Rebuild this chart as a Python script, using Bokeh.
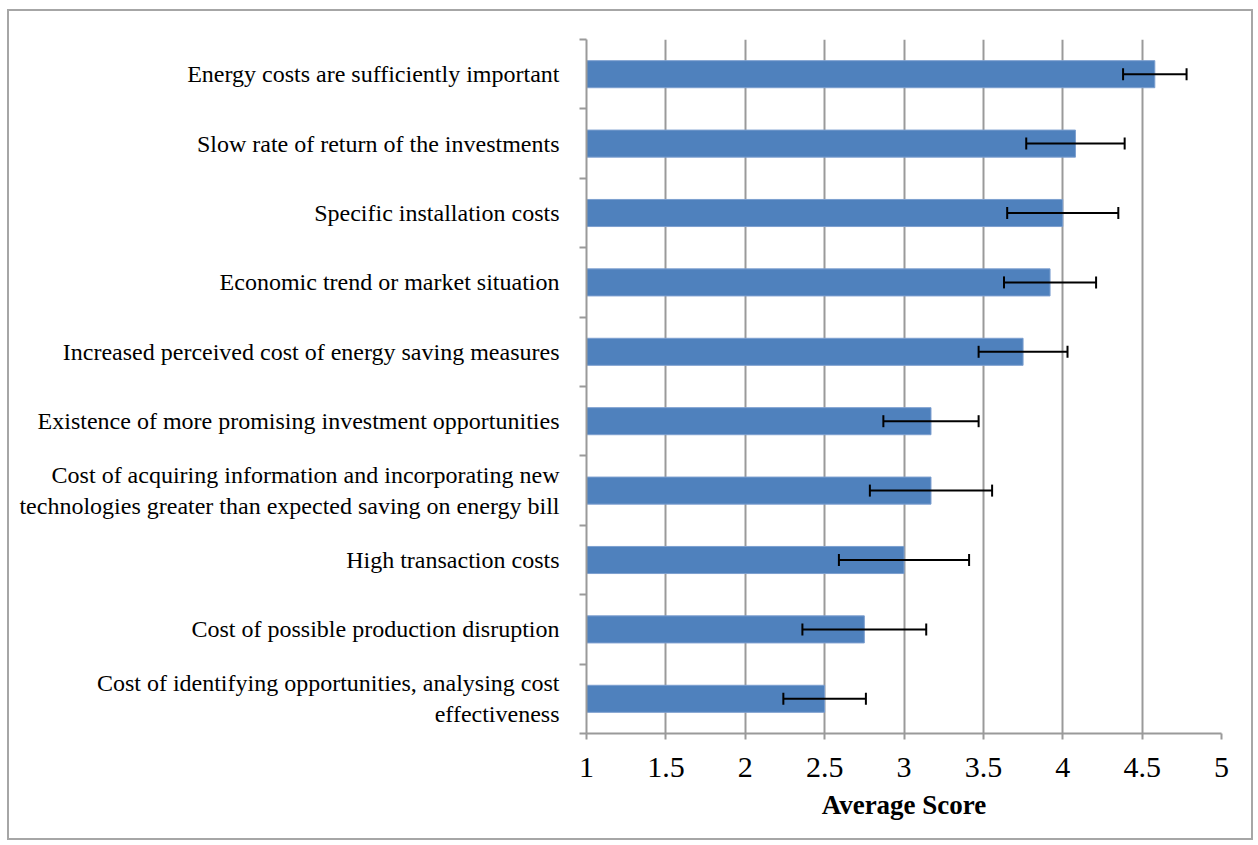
from bokeh.plotting import figure
from bokeh.models import (Range1d, FixedTicker, NumeralTickFormatter, Whisker,
                          ColumnDataSource, TeeHead)
from bokeh.embed import file_html
from bokeh.resources import INLINE

categories = [
    "Energy costs are sufficiently important",
    "Slow rate of return of the investments",
    "Specific installation costs",
    "Economic trend or market situation",
    "Increased perceived cost of energy saving measures",
    "Existence of more promising investment opportunities",
    "Cost of acquiring information and incorporating new\ntechnologies greater than expected saving on energy bill",
    "High transaction costs",
    "Cost of possible production disruption",
    "Cost of identifying opportunities, analysing cost\neffectiveness",
]
scores = [4.58, 4.08, 4.00, 3.92, 3.75, 3.17, 3.17, 3.00, 2.75, 2.50]
errors = [0.20, 0.31, 0.35, 0.29, 0.28, 0.30, 0.385, 0.41, 0.39, 0.26]
x_ticks = [1, 1.5, 2, 2.5, 3, 3.5, 4, 4.5, 5]

n = len(categories)
pos = [n - 0.5 - i for i in range(n)]
src = ColumnDataSource(dict(
    cat=categories, score=scores, pos=pos,
    lower=[s - e for s, e in zip(scores, errors)],
    upper=[s + e for s, e in zip(scores, errors)],
))

FONT = "Liberation Serif"
GRAY = "#9a9a9a"

p = figure(width=1246, height=831, x_range=Range1d(x_ticks[0], x_ticks[-1]),
           y_range=Range1d(0, n), output_backend="svg", toolbar_location=None,
           min_border_left=577, min_border_top=28, min_border_right=34,
           min_border_bottom=109)
p.styles = {"border": "2px solid #a6a6a6", "margin-left": "7px", "margin-top": "9px"}
p.outline_line_color = None

p.hbar(y="pos", left=x_ticks[0], right="score", height=0.39, source=src,
       fill_color="#4F81BD", line_color="#7d9fcf", line_width=1)

w = Whisker(base="pos", lower="lower", upper="upper", dimension="width",
            source=src, line_color="black", line_width=2, level="overlay",
            upper_head=TeeHead(size=12, line_width=2, line_color="black"),
            lower_head=TeeHead(size=12, line_width=2, line_color="black"))
p.add_layout(w)

# y axis
ya = p.yaxis[0]
ya.ticker = FixedTicker(ticks=pos, minor_ticks=list(range(n + 1)))
ya.major_label_overrides = {pp: c for pp, c in zip(pos, categories)}
ya.major_tick_out = 0
ya.major_tick_in = 0
ya.minor_tick_out = 7
ya.minor_tick_in = 0
ya.minor_tick_line_color = GRAY
ya.minor_tick_line_width = 2
ya.axis_line_color = GRAY
ya.axis_line_width = 2
ya.major_label_text_font = FONT
ya.major_label_text_font_size = "24px"
ya.major_label_text_color = "black"
ya.major_label_standoff = 20

# x axis
xa = p.xaxis[0]
xa.ticker = FixedTicker(ticks=x_ticks)
xa.formatter = NumeralTickFormatter(format="0.[0]")
xa.major_tick_out = 6
xa.major_tick_in = 0
xa.minor_tick_out = 0
xa.minor_tick_in = 0
xa.major_tick_line_color = GRAY
xa.major_tick_line_width = 2
xa.axis_line_color = GRAY
xa.axis_line_width = 2
xa.major_label_text_font = FONT
xa.major_label_text_font_size = "30px"
xa.major_label_text_color = "black"
xa.major_label_standoff = 18
xa.axis_label = "Average Score"
xa.axis_label_text_font = FONT
xa.axis_label_text_font_size = "27px"
xa.axis_label_text_font_style = "bold"
xa.axis_label_text_color = "black"
xa.axis_label_standoff = 10

p.xgrid.ticker = FixedTicker(ticks=x_ticks)
p.xgrid.grid_line_color = GRAY
p.xgrid.grid_line_width = 2
p.ygrid.visible = False

open("out.html", "w").write(file_html(p, INLINE))
